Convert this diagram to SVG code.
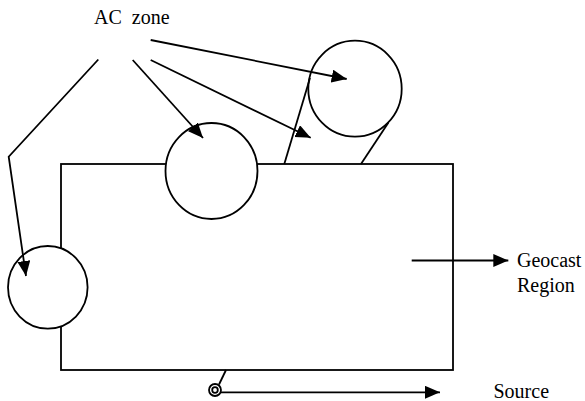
<svg xmlns="http://www.w3.org/2000/svg" width="585" height="401" viewBox="0 0 585 401">
<style>
.s{fill:none;stroke:#000;stroke-width:1.8}
.c{fill:#fff;stroke:#000;stroke-width:1.8}
.t{font-family:"Liberation Serif","Times New Roman",serif;font-size:20px;fill:#000;white-space:pre}
</style>
<defs>
<marker id="ah" markerUnits="userSpaceOnUse" markerWidth="16" markerHeight="14" refX="15" refY="6.5" orient="auto">
<path d="M0,0 L15,6.5 L0,13 z" fill="#000"/>
</marker>
</defs>
<rect width="585" height="401" fill="#fff"/>
<g id="geocast-region">
<rect class="s" x="61" y="164" width="392" height="206"/>
</g>
<g id="ac-zone-1">
<ellipse class="c" cx="211.5" cy="171" rx="46" ry="48"/>
</g>
<g id="ac-zone-2">
<ellipse class="c" cx="355" cy="88.7" rx="46.7" ry="48"/>
</g>
<g id="ac-zone-3">
<ellipse class="c" cx="47.8" cy="287.3" rx="39.8" ry="41.3"/>
</g>
<g id="source-node">
<circle class="s" cx="215" cy="390" r="6"/>
<circle class="s" cx="215" cy="390" r="2.8"/>
</g>
<g id="connectors">
<line class="s" x1="284.3" y1="164" x2="310" y2="78"/>
<line class="s" x1="361" y1="164" x2="388.3" y2="122.7"/>
<line class="s" x1="219" y1="384.5" x2="226" y2="370"/>
<polyline class="s" points="98.3,59.5 8.7,156.7 26,276" marker-end="url(#ah)"/>
<line class="s" x1="132.7" y1="60" x2="203" y2="138" marker-end="url(#ah)"/>
<line class="s" x1="150.7" y1="40" x2="346.7" y2="79" marker-end="url(#ah)"/>
<line class="s" x1="150.7" y1="60" x2="310.7" y2="137.7" marker-end="url(#ah)"/>
<line class="s" x1="411.7" y1="260.5" x2="508.3" y2="260.5" marker-end="url(#ah)"/>
<line class="s" x1="221" y1="392.3" x2="440" y2="392.3" marker-end="url(#ah)"/>
</g>
<g id="labels">
<text class="t" x="94" y="24.3">AC  zone</text>
<text class="t" x="517" y="267">Geocast</text>
<text class="t" x="517" y="292">Region</text>
<text class="t" x="493.5" y="398">Source</text>
</g>
</svg>
